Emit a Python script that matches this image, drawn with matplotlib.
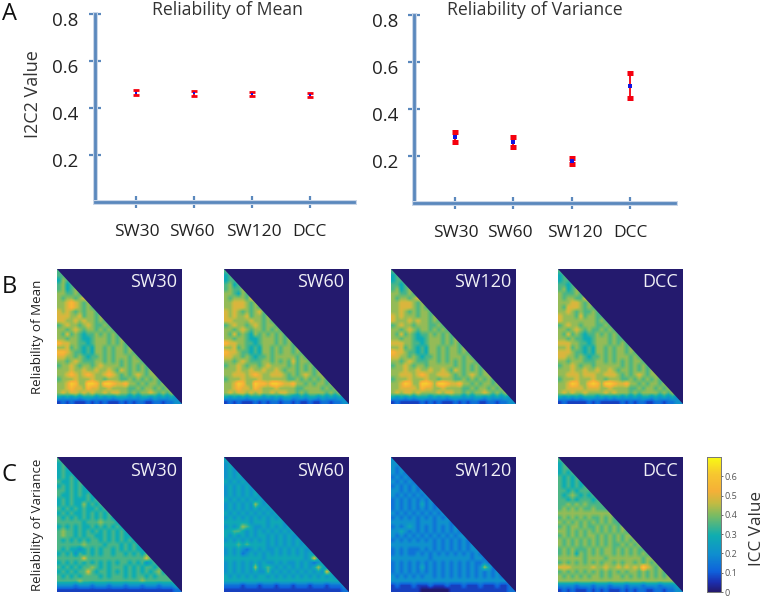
import numpy as np
import matplotlib
matplotlib.use("Agg")
import matplotlib.pyplot as plt
import matplotlib.patheffects as pe
from matplotlib.colors import LinearSegmentedColormap
from matplotlib.patches import Polygon
from matplotlib.transforms import ScaledTranslation

W, H = 764, 596
plt.rcParams['font.family'] = ['Open Sans', 'DejaVu Sans']

conditions = ['SW30', 'SW60', 'SW120', 'DCC']

# panel A
mean_center = [0.465, 0.462, 0.459, 0.456]
mean_low = [0.455, 0.452, 0.450, 0.447]
mean_high = [0.475, 0.472, 0.468, 0.465]
var_center = [0.280, 0.260, 0.178, 0.500]
var_low = [0.260, 0.238, 0.165, 0.448]
var_high = [0.302, 0.280, 0.190, 0.553]
yticks_a = [0.2, 0.4, 0.6, 0.8]

# panels B and C: lower triangle, coarse reading, one digit = 0.07 ICC
DIGIT = 0.07
mean_sw30 = ["5", "55", "465", "5645", "56456", "665565", "6566567", "66787656", "667876565", "7676565665",
             "77766756656", "776676766565", "5676656765565", "66567656656565", "657565455656565",
             "6656654456665656", "87766554566656565", "667565454665656656", "8876554546656566565",
             "77665654556565666565", "665676555665656565665", "5667656656766665656565",
             "66676676676676576565656", "667876787667876565676566", "5666766676656665565656565",
             "66798669986998778665656656", "667877687766766665565665656", "6767767676676776656566765656",
             "43434344434343444343443434343", "121211121212111212122112212233"]
mean_sw60 = ["5", "45", "455", "5645", "56556", "665465", "6566657", "66777656", "667776565", "7676565675",
             "76766756656", "776666766565", "5676656765665", "66567656656565", "657565465656565",
             "6656654456665656", "87766554566656565", "667565454665656656", "8776554546656566565",
             "77665654556566666565", "665676555665656575665", "5667656656766665656565",
             "66676676676676566565656", "667776787667776565676566", "5666766676666665565656565",
             "66798669887998778665656656", "667877687666766665566665656", "6767767676676776656566665656",
             "43434344434343443343443434343", "121211121212212212112112212233"]
mean_sw120 = ["5", "45", "455", "5545", "56456", "665565", "6566567", "66777656", "667776565", "6676565665",
              "76766656656", "766676766565", "5676656665565", "66567656656565", "657565455656565",
              "6656654456665656", "77766554566656565", "667565454665656656", "8776554546656566565",
              "77665654556565666565", "665676555665656565665", "5667656656666665656565",
              "66676676676676576565656", "667776787667776565676566", "5666766676656665565656565",
              "66798669986998778665656656", "667777687766766665565665656", "6767767666676776656566765656",
              "43434344434343444343443434343", "121111121212111212122112212233"]
mean_dcc = ["5", "45", "455", "5545", "56456", "655565", "6566557", "66677656", "657776565", "6676565565",
            "76665756655", "766666666565", "5676656665565", "66567656556565", "657565455656565",
            "6656554456665655", "77766554566656565", "667565454665656656", "7776554546656566565",
            "77665654556565666565", "665666555665656565665", "5667656656666665656565",
            "66676676676676566565656", "667776777667776565676566", "5666766676656665565656565",
            "66798668986998778665656656", "667777677766766665565665656", "6767667666676766656566665656",
            "43434344434343434343443434343", "121111121211111212122112212233"]
var_sw30 = ["5", "45", "454", "4544", "45454", "544545", "4545454", "55454544", "544545454", "4545444545",
            "45454464545", "545454544545", "4545445454545", "54545454545454", "555555455565554",
            "4545454454545454", "56554545454545454", "56554545544545454", "5454545455454545454",
            "55555565555455545454", "54544345454554545454", "4545354545455455454545",
            "55555575555555555555575", "45454545454545455454534545", "5454545565454555454545545",
            "454545575455454545454545645", "545454555545455545455454555", "5555565555555555555565555555",
            "33332333233323332333233323334", "111111111111111111111111111122"]
var_sw60 = ["4", "34", "343", "3434", "34343", "434343", "3434343", "34343434", "343434343", "4343434343",
            "34343436434", "343434343434", "4343434343434", "34343434343434", "444444344434443",
            "3434654334343434", "44554343434343434", "43434343443434343", "3434343434343434343",
            "44454544443434343434", "34343234343343434343", "3434234343434343434343",
            "44444444434444444443474", "34343434343343433434323434", "3434343634543434343434643",
            "343434343353434343434343743", "434343434434343434343434343", "4444444444444444444444444444",
            "22221222122212221222122212223", "111111111111111111111111111122"]
var_sw120 = ["3", "33", "323", "3232", "23232", "323232", "2323232", "33232323", "323232323", "2323232323",
             "23232324232", "232323232323", "3232323232323", "23232323232323", "333333233323332",
             "2323432323232323", "33432323232323232", "32323232323232323", "2323232323232323232",
             "33333333332323232323", "23232223232323232323", "2323223232323232323232",
             "33333333323333333332332", "23232323232323232323223232", "2323232423232323232323642",
             "232323232323232323232323232", "323232323323232323232323232", "3333333333333333333333333333",
             "12111211121112111211121112112", "111111100000001111111111111122"]
var_dcc = ["5", "45", "455", "4545", "54545", "545454", "5454545", "55454555", "545654545", "5545455545",
           "55656565555", "565656556555", "6666666666666", "56565656556565", "656565656565655",
           "5656656556565656", "66565656565656565", "56565656656565656", "6565656565656565656",
           "65656565656565565656", "56565556565665656565", "5656465656566565656565",
           "66666656666566666666566", "56565656565665656656565656", "7776666676676676767697656",
           "565656565656565656656565656", "656565656656566565656565656", "6666666666666666666666666666",
           "33332333233323332333233323334", "121211121212111212122112212233"]

row_b = [mean_sw30, mean_sw60, mean_sw120, mean_dcc]
row_c = [var_sw30, var_sw60, var_sw120, var_dcc]

cb_ticks = [0, 0.1, 0.2, 0.3, 0.4, 0.5, 0.6]

parula = LinearSegmentedColormap.from_list('parula_like', [
    (0.00, '#241a6e'), (0.07, '#1c2fb0'), (0.15, '#0f62dc'), (0.28, '#0f8fcf'),
    (0.42, '#10aeb0'), (0.57, '#7cbc62'), (0.66, '#c4bb42'), (0.75, '#f5b038'),
    (0.88, '#f7c830'), (1.00, '#f9fa14')])


def px_axes(fig, x0, y0, x1, y1):
    return fig.add_axes([x0 / W, 1 - y1 / H, (x1 - x0) / W, (y1 - y0) / H])


def px_text(fig, x, y, s, **kw):
    kw.setdefault('ha', 'center')
    kw.setdefault('va', 'center')
    return fig.text(x / W, 1 - y / H, s, **kw)


def decode(rows):
    n = len(rows)
    mat = np.zeros((n, n))
    for i, row in enumerate(rows):
        vals = [int(c) * DIGIT for c in row]
        mat[i, :len(vals)] = vals
        mat[i, len(vals):] = vals[-1]  # hidden by the clip, only keeps the edge clean
    return mat


def draw_points(ax, center, low, high, capthick, capsize, ms):
    x = np.arange(1, len(center) + 1)
    center = np.array(center)
    err = [center - np.array(low), np.array(high) - center]
    ax.errorbar(x, center, yerr=err, fmt='none', ecolor='#f5000f', elinewidth=1.3,
                capsize=capsize, capthick=capthick, zorder=3)
    ax.plot(x, center, 's', color='#1414e0', ms=ms, mew=0, zorder=4)


def style_axis(ax, xlim, label_nudge):
    ax.set_xlim(*xlim)
    ax.set_ylim(0, 0.8)
    ax.patch.set_alpha(0)
    soft = [pe.withStroke(linewidth=3.6, foreground='#c9d6e8')]
    for side in ['top', 'right']:
        ax.spines[side].set_visible(False)
    for side in ['left', 'bottom']:
        ax.spines[side].set_color(AXIS_BLUE)
        ax.spines[side].set_linewidth(2.0)
        ax.spines[side].set_path_effects(soft)
    ax.set_yticks(yticks_a)
    ax.set_yticklabels([f'{v:.1f}' for v in yticks_a])
    ax.set_xticks([1, 2, 3, 4])
    ax.set_xticklabels(conditions)
    ax.tick_params(axis='both', direction='inout', length=8, width=1.6, color=AXIS_BLUE,
                   labelsize=12.5, labelcolor='#222222')
    ax.tick_params(axis='x', pad=12)
    ax.tick_params(axis='y', pad=7.5, labelsize=13.5)
    for lab in ax.get_yticklabels():
        lab.set_transform(lab.get_transform() + ScaledTranslation(0, -5 / 100, fig.dpi_scale_trans))
    for lab, dx in zip(ax.get_xticklabels(), label_nudge):
        lab.set_transform(lab.get_transform() + ScaledTranslation(dx / 100, 0, fig.dpi_scale_trans))


AXIS_BLUE = '#5a88bd'
fig = plt.figure(figsize=(W / 100, H / 100), dpi=100)

# panel A
ax1 = px_axes(fig, 94.5, 14, 354, 201.5)
style_axis(ax1, (0.285, 4.76), [1, -2, 2, 0])
draw_points(ax1, mean_center, mean_low, mean_high, 2.0, 2.4, 2.0)

ax2 = px_axes(fig, 414, 15, 675, 203)
style_axis(ax2, (0.30, 4.77), [1, -3, 3, 0])
draw_points(ax2, var_center, var_low, var_high, 3.6, 2.4, 2.6)

px_text(fig, 227, 10, 'Reliability of Mean', fontsize=12.7, color='#333333')
px_text(fig, 535, 10, 'Reliability of Variance', fontsize=12.7, color='#333333')
px_text(fig, 33, 94, 'I2C2 Value', rotation=90, fontsize=13, color='#333333')
px_text(fig, 38, 337, 'Reliability of Mean', rotation=90, fontsize=9.6, color='#222222')
px_text(fig, 38, 525, 'Reliability of Variance', rotation=90, fontsize=9.5, color='#222222')
px_text(fig, 10, 14, 'A', fontsize=17, color='#111111')
px_text(fig, 9, 287, 'B', fontsize=17, color='#111111')
px_text(fig, 9, 475, 'C', fontsize=17, color='#111111')

# panels B and C
x_starts = [57, 224, 391, 558]
for rows, y0, y_lab in [(row_b, 269, 282), (row_c, 457, 471)]:
    for panel, x0, name in zip(rows, x_starts, conditions):
        ax = px_axes(fig, x0, y0, x0 + 125, y0 + 135)
        ax.set_facecolor(parula(0.0))
        im = ax.imshow(decode(panel), cmap=parula, vmin=0, vmax=0.7, aspect='auto',
                       interpolation='bilinear', extent=(0, 1, 0, 1))
        im.set_clip_path(Polygon([(0, 1), (1, 0), (0, 0)], transform=ax.transAxes))
        ax.set_xticks([])
        ax.set_yticks([])
        for s in ax.spines.values():
            s.set_visible(False)
        px_text(fig, x0 + 120, y_lab, name, ha='right', fontsize=13, color='#f0f0f6')

# colorbar
cax = px_axes(fig, 707, 457, 721, 592)
grad = np.linspace(0.7, 0, 200).reshape(-1, 1)
cax.imshow(grad, cmap=parula, vmin=0, vmax=0.7, aspect='auto', extent=(0, 1, 0, 0.7))
cax.set_xticks([])
cax.yaxis.tick_right()
cax.set_yticks(cb_ticks)
cax.set_yticklabels([f'{v:g}' for v in cb_ticks])
cax.tick_params(axis='y', length=1.5, width=0.6, color='#555555', labelsize=6.5,
                labelcolor='#555555', pad=1)
for s in cax.spines.values():
    s.set_color('#777777')
    s.set_linewidth(0.7)
px_text(fig, 757, 528, 'ICC Value', rotation=90, fontsize=12.3, color='#333333')

fig.savefig('out.png', dpi=100)
